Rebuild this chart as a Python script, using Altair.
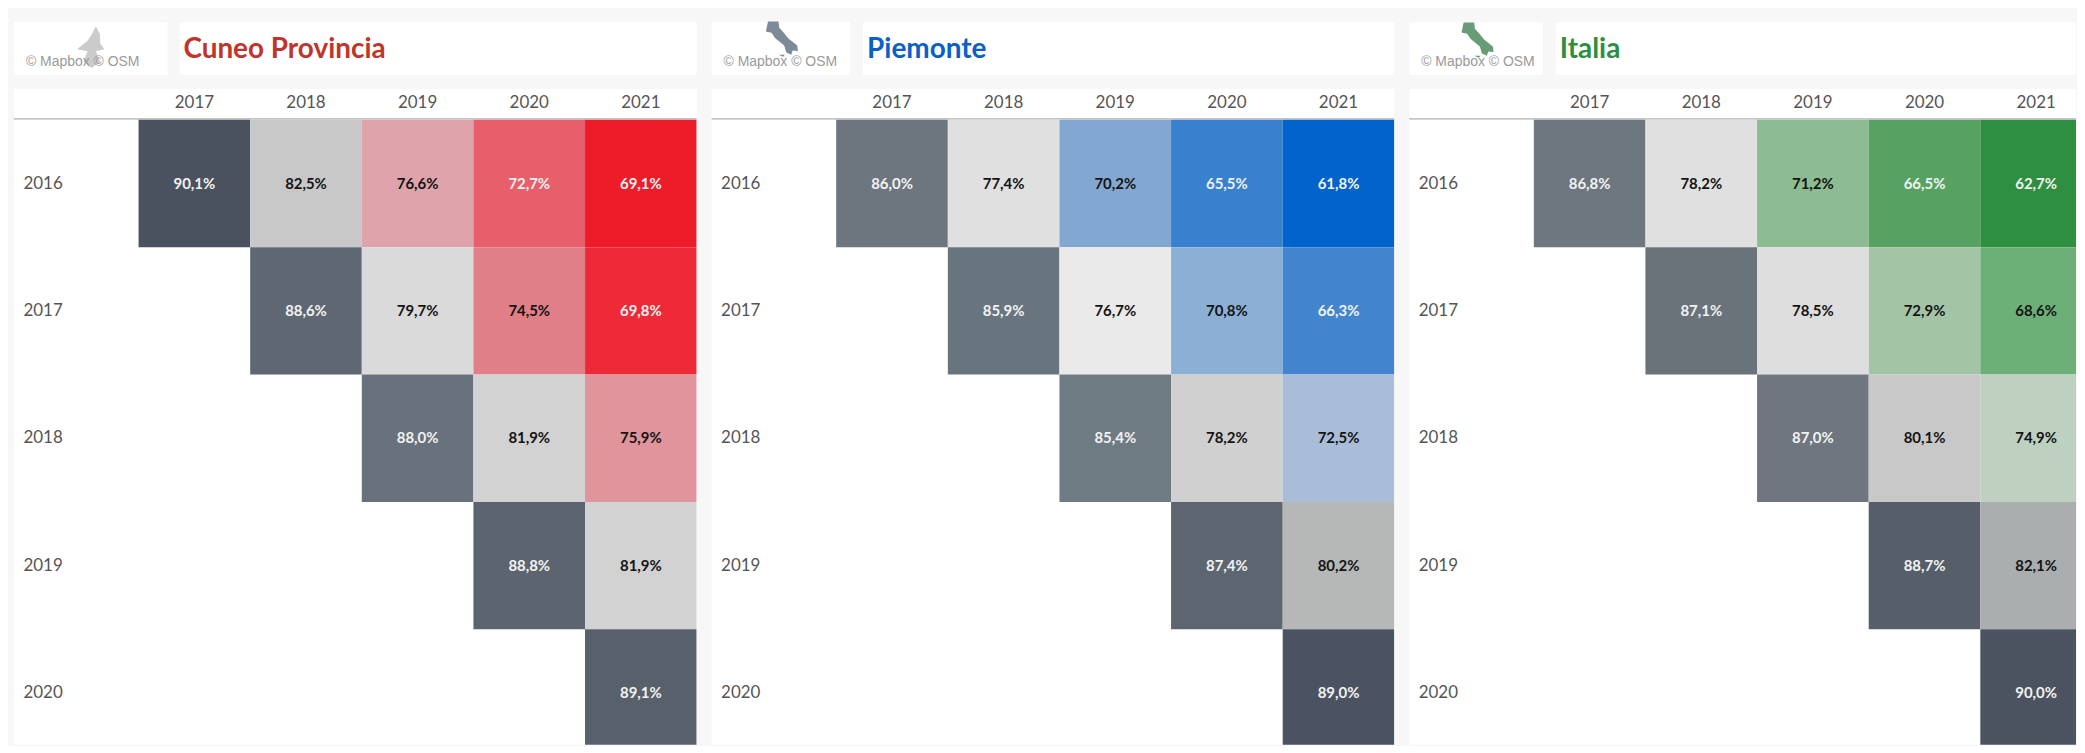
import altair as alt
import pandas as pd

COL_YEARS = ["2017", "2018", "2019", "2020", "2021"]
ROW_YEARS = ["2016", "2017", "2018", "2019", "2020"]

cuneo = [[90.1, 82.5, 76.6, 72.7, 69.1],
         [None, 88.6, 79.7, 74.5, 69.8],
         [None, None, 88.0, 81.9, 75.9],
         [None, None, None, 88.8, 81.9],
         [None, None, None, None, 89.1]]
piemonte = [[86.0, 77.4, 70.2, 65.5, 61.8],
            [None, 85.9, 76.7, 70.8, 66.3],
            [None, None, 85.4, 78.2, 72.5],
            [None, None, None, 87.4, 80.2],
            [None, None, None, None, 89.0]]
italia = [[86.8, 78.2, 71.2, 66.5, 62.7],
          [None, 87.1, 78.5, 72.9, 68.6],
          [None, None, 87.0, 80.1, 74.9],
          [None, None, None, 88.7, 82.1],
          [None, None, None, None, 90.0]]

cuneo_stops = [69.1, 69.8, 72.7, 74.5, 75.9, 76.6, 79.7, 81.9, 82.5, 88.0, 88.6, 88.8, 89.1, 90.1]
cuneo_colors = ["#ee1c28", "#ee2a38", "#e65f6b", "#e07f88", "#e0949c", "#dfa3ab", "#dadada",
                "#d2d2d2", "#c8c8c8", "#68717c", "#5f6872", "#5c646f", "#57606b", "#4a5260"]
piemonte_stops = [61.8, 65.5, 66.3, 70.2, 70.8, 72.5, 76.7, 77.4, 78.2, 80.2, 85.4, 85.9, 86.0, 87.4, 89.0]
piemonte_colors = ["#0064cc", "#3881cf", "#4285ce", "#82a8d2", "#8bafd5", "#a9bdd8", "#eaeaea", "#e0e0e0",
                   "#d0d0d0", "#b5b8b7", "#6f7b82", "#69757e", "#6d757e", "#5c6570", "#4b5362"]
italia_stops = [62.7, 66.5, 68.6, 71.2, 72.9, 74.9, 78.2, 78.5, 80.1, 82.1, 86.8, 87.0, 87.1, 88.7, 90.0]
italia_colors = ["#2e8f40", "#55a263", "#6cb077", "#8dbb92", "#a4c5a5", "#bed1c0", "#e0e0e0", "#dedede",
                 "#c8c8c8", "#abaeaf", "#6e7680", "#6f767f", "#6a727a", "#565e69", "#4b5260"]

ITALY = ("M-0.38,-0.5 L-0.08,-0.5 L-0.06,-0.32 L0.05,-0.2 L0.2,-0.02 L0.45,0.18 L0.47,0.34 L0.32,0.32 L0.28,0.44 "
         "L0.14,0.38 L0.08,0.18 L-0.18,-0.03 L-0.28,-0.18 L-0.44,-0.22 Z M-0.08,0.44 L0.1,0.44 L0.05,0.5 Z")
PIEMONTE = ("M0.1,-0.5 L0.2,-0.3 L0.2,-0.1 L0.3,0.05 L0.1,0.1 L0.2,0.35 L0,0.5 L-0.2,0.35 L-0.1,0.1 "
            "L-0.35,0.05 L-0.1,-0.15 L0,-0.3 Z")

FONT = "Lato"


def frame(matrix):
    rows = []
    for r, row in zip(ROW_YEARS, matrix):
        for c, v in zip(COL_YEARS, row):
            if v is not None:
                rows.append({"row": r, "col": c, "v": v, "label": f"{v:.1f}".replace(".", ",") + "%"})
    return pd.DataFrame(rows)


def panel(name, title_color, matrix, stops, colors, white_below, logo_w, gap, title_w,
          icon, icon_color, icon_opacity, icon_x, icon_y, icon_size, table_w):
    title_h = 53
    logo = alt.layer(
        alt.Chart(pd.DataFrame({"t": ["icon"]})).mark_point(
            shape=icon, filled=True, color=icon_color, opacity=icon_opacity, size=icon_size
        ).encode(x=alt.value(icon_x), y=alt.value(icon_y)),
        alt.Chart(pd.DataFrame({"t": ["© Mapbox © OSM"]})).mark_text(
            font="Liberation Sans", fontSize=14, color="#9a9a9a", align="left"
        ).encode(text="t:N", x=alt.value(12), y=alt.value(40)),
    ).properties(width=logo_w, height=title_h)
    title = alt.Chart(pd.DataFrame({"t": [name]})).mark_text(
        font=FONT, fontSize=28, fontWeight="bold", color=title_color, align="left"
    ).encode(text="t:N", x=alt.value(4), y=alt.value(28)).properties(width=title_w, height=title_h)
    head = alt.hconcat(logo, title, spacing=gap)

    df = frame(matrix)
    x = alt.X("col:O", scale=alt.Scale(domain=COL_YEARS, range=[125, 685], paddingInner=0, paddingOuter=0),
              axis=alt.Axis(orient="top", title=None, domain=False, ticks=False, labelAngle=0, offset=-23,
                            labelPadding=0, labelFont=FONT, labelFontSize=17, labelColor="#555555"))
    y = alt.Y("row:O", scale=alt.Scale(domain=ROW_YEARS, range=[31, 670], paddingInner=0, paddingOuter=0),
              axis=alt.Axis(title=None, domain=False, ticks=False, offset=-9, labelPadding=0, labelAlign="left",
                            labelFont=FONT, labelFontSize=17, labelColor="#555555"))
    cells = alt.Chart(df).mark_rect(clip=True).encode(
        x=x, y=y,
        color=alt.Color("v:Q", scale=alt.Scale(domain=stops, range=colors), legend=None),
    )
    texts = alt.Chart(df).mark_text(font=FONT, fontSize=15, fontWeight="bold", clip=True).encode(
        x=x, y=y,
        text="label:N",
        color=alt.condition(f"datum.v < {white_below} || datum.v > 84", alt.value("#f2f2f2"), alt.value("#141414")),
    )
    rule = alt.Chart(pd.DataFrame({"t": ["line"]})).mark_rule(color="#c4c6c8", size=2).encode(
        x=alt.value(0), x2=alt.value(table_w), y=alt.value(30)
    )
    table = alt.layer(rule, cells, texts).resolve_scale(color="independent").properties(width=table_w, height=658)
    return alt.vconcat(head, table, spacing=14).resolve_scale(color="independent")


chart = alt.hconcat(
    panel("Cuneo Provincia", "#c0352b", cuneo, cuneo_stops, cuneo_colors, 73.5, 154, 12, 519,
          PIEMONTE, "#a8a8a8", 0.6, 78, 25, 7000, 685),
    panel("Piemonte", "#0a60c8", piemonte, piemonte_stops, piemonte_colors, 68, 139, 13, 533,
          ITALY, "#667585", 0.85, 70, 17, 5000, 685),
    panel("Italia", "#2e8f40", italia, italia_stops, italia_colors, 67.5, 134, 13, 522,
          ITALY, "#4f8a5e", 0.85, 68, 18, 5000, 669),
    spacing=13,
).resolve_scale(color="independent").properties(
    padding={"left": 5, "top": 12, "right": 0, "bottom": 0},
    background="#f7f7f7",
).configure_view(fill="white", strokeWidth=0)

chart.save("out.html", embed_options={"renderer": "svg", "actions": False})
